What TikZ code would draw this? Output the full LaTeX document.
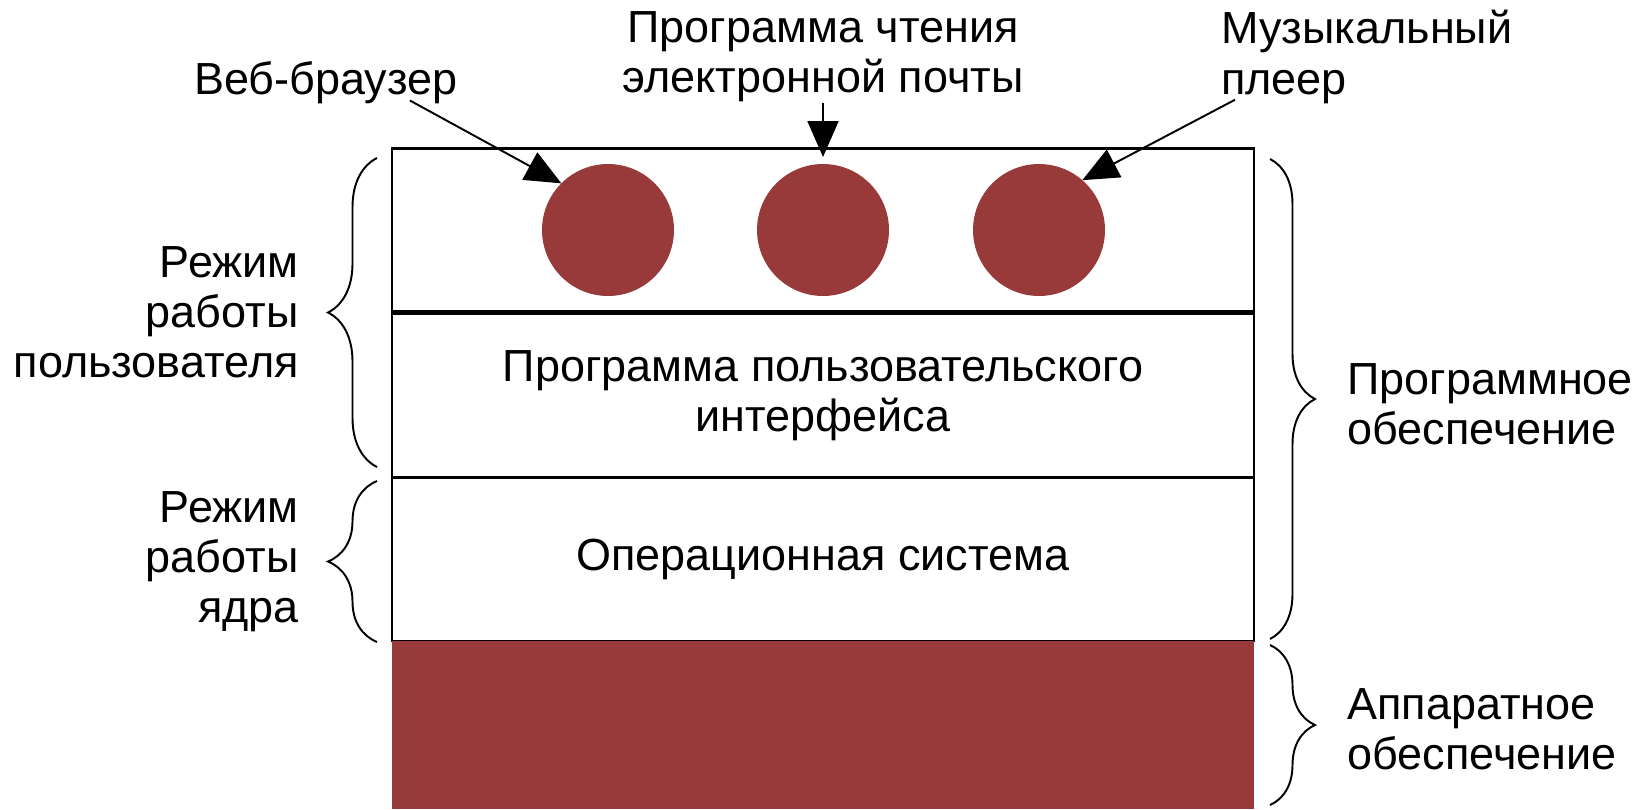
\documentclass[tikz,border=0pt]{standalone}
\usepackage{fontspec}
\setmainfont{Liberation Sans}
\usepackage{xcolor}
\usetikzlibrary{arrows.meta, decorations.pathreplacing, positioning, calc}
\definecolor{hwred}{RGB}{152,58,57}

\begin{document}
\begin{tikzpicture}[x=0.02cm, y=-0.02cm,
		font=\fontsize{25.6}{28.5}\selectfont,
		layer/.style={draw, line width=1.5pt, minimum width=17.24cm, minimum height=3.28cm, inner sep=0pt, outer sep=0pt, align=center},
		app/.style={circle, fill=hwred, minimum size=2.64cm, inner sep=0pt, outer sep=0pt},
		lbl/.style={align=center, inner sep=0pt},
		pointer/.style={-{Triangle[length=0.72cm, width=0.62cm]}, line width=1.1pt},
		bracket/.style={decorate, decoration={brace, amplitude=#1}, line width=1.1pt},
		bracket/.default=0.9cm]
		\useasboundingbox (0,0) rectangle (1645,809);

		\node[layer] (apps) at (823,230.5) {};
		\node[layer] (ui) at (823,396) {Программа пользовательского\\интерфейса};
		\node[layer] (os) at (823,559) {Операционная система};
		\node[layer, draw=none, fill=hwred, minimum height=3.36cm] (hw) at (823,725) {};
		\draw[line width=2.6pt] (apps.south west) -- (apps.south east);

		\node[app] (browser) at (608,230) {};
		\node[app] (mailapp) at (823,230) {};
		\node[app] (player) at (1039,230) {};

		\node[lbl] (web) at (326,83) {Веб-браузер};
		\node[lbl] (mail) at (823,57) {Программа чтения\\электронной почты};
		\node[lbl, align=left, anchor=west] (music) at (1221,57) {Музыкальный\\плеер};

		\draw[pointer] ([xshift=-0.96cm, yshift=0.08cm]web.south east) -- (browser.135);
		\draw[pointer] (mail.south) -- ([yshift=0.14cm]mailapp.north);
		\draw[pointer] ([xshift=0.28cm, yshift=0.08cm]music.south west) -- (player.49);

		% braces left
		\draw[bracket=0.98cm] (377,467) -- (377,158);
		\draw[bracket=0.98cm] (377,642) -- (377,481);
		\node[lbl, align=right, anchor=east] (usermode) at (299,312) {Режим\\работы\\пользователя};
		\node[lbl, align=right, anchor=east] (kernelmode) at (299,562) {Режим\\работы\\ядра};

		% braces right
		\draw[bracket] (1270,159) -- (1270,639);
		\draw[bracket] (1270,645) -- (1270,805);
		\node[lbl, align=left, anchor=west] (software) at (1347,404) {Программное\\обеспечение};
		\node[lbl, align=left, anchor=west] (hardware) at (1347,729) {Аппаратное\\обеспечение};
	\end{tikzpicture}
\end{document}
